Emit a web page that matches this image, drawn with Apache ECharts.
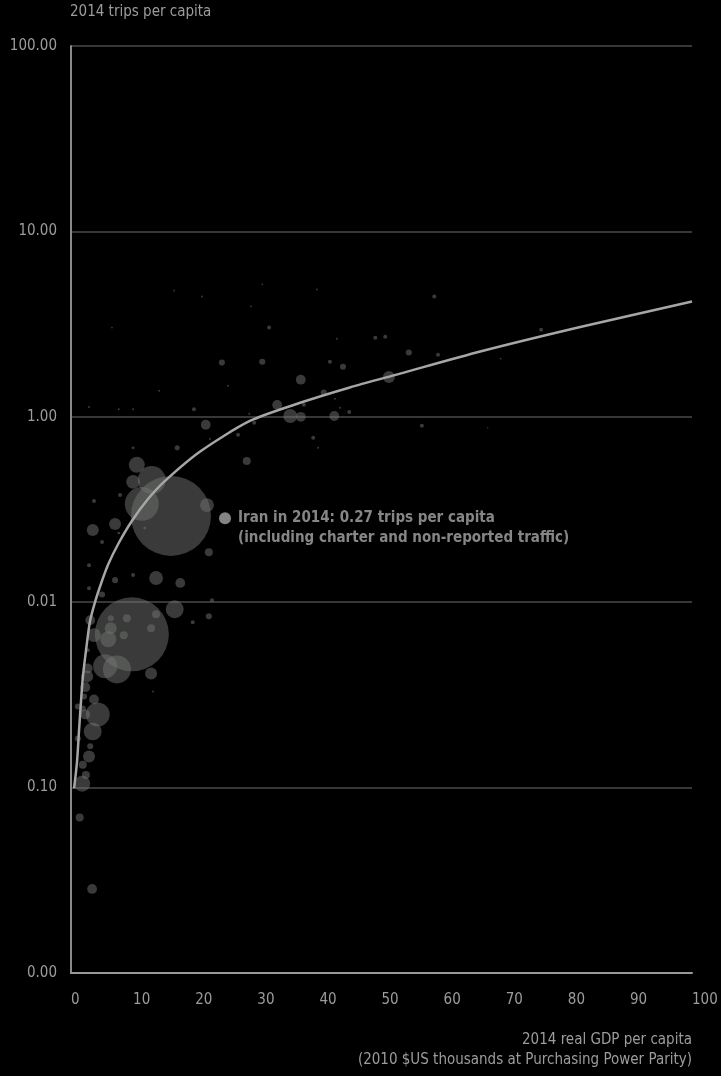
<!DOCTYPE html>
<html>
<head>
<meta charset="utf-8">
<script src="https://cdn.jsdelivr.net/npm/echarts@6/dist/echarts.min.js"></script>
<style>
  html, body { margin: 0; padding: 0; background: #000; }
  #chart { width: 721px; height: 1076px; }
</style>
</head>
<body>
<div id="chart"></div>
<script>
// labels as printed on the original (y axis is log, 0.001 .. 100)
var yTickLabels = ['0.00', '0.10', '0.01', '1.00', '10.00', '100.00'];

// countries: GDP per capita (k$), trips per capita, population weight
var gdp = [16.1, 9.8, 11.4, 13.0, 10.6, 10.0, 21.9, 7.1, 3.5, 13.7, 17.6, 21.7, 28.3, 22.2, 17.1, 16.7, 22.2, 22.7,
  3.7, 7.9, 10.0, 19.8, 2.9, 7.1, 5.0, 2.9, 5.0, 10.0, 11.9, 7.7, 2.9, 7.7, 10.0, 14.2, 25.3,
  9.0, 6.4, 13.7, 12.9, 6.4, 6.0, 8.5, 3.7, 3.1, 2.7, 5.5, 7.4, 12.9, 2.7, 2.6, 2.3, 2.1, 13.2, 3.7, 4.3, 1.9, 2.3, 19.6,
  3.5, 1.1, 3.1, 2.9, 1.9, 2.4, 1.8, 1.4, 3.4, 1.1,
  24.3, 30.8, 31.9, 37.0, 41.7, 43.8, 49.0, 50.6, 54.4, 58.5, 59.1, 51.2, 40.7, 33.2, 35.3, 37.0, 42.4, 37.5, 44.8, 56.5,
  26.9, 39.0, 29.5, 28.7, 30.8, 39.6, 29.0, 21.1, 42.8, 22.4, 42.5, 43.3, 39.8, 16.6, 6.6, 75.7, 69.2, 67.1];
var trips = [0.292, 0.0671, 0.339, 0.456, 0.551, 0.446, 0.334, 0.264, 0.245, 0.135, 0.127, 0.906, 0.578, 0.186, 0.68, 0.0916, 0.084, 0.1026,
  0.351, 0.379, 0.68, 1.10, 0.158, 0.1315, 0.211, 0.119, 0.110, 0.140, 0.251, 0.236, 1.13, 1.10, 1.10, 1.38, 1.47,
  0.082, 0.082, 0.0861, 0.0723, 0.0723, 0.0631, 0.0664, 0.0664, 0.080, 0.0551, 0.0451, 0.0434, 0.0413, 0.0439, 0.0398, 0.0348, 0.031, 0.033, 0.0299, 0.0248, 0.0267, 0.0248, 0.078,
  0.0201, 0.0184, 0.0167, 0.0147, 0.0133, 0.0117, 0.0105, 0.0069, 0.00284, 0.0274,
  1.96, 1.98, 3.03, 1.585, 1.98, 1.86, 2.67, 2.70, 2.22, 4.46, 2.16, 1.64, 1.35, 1.16, 1.01, 1.00, 1.01, 1.16, 1.06, 0.894,
  0.80, 0.77, 0.93, 1.04, 5.18, 4.86, 3.94, 4.46, 2.64, 0.76, 1.25, 1.12, 0.68, 4.8, 3.03, 2.95, 2.06, 0.873];
var pop = [400, 342, 72, 49, 16, 12, 12, 9, 9, 12, 6, 6, 4, 4, 1.6, 20, 2.3, 1,
  1, 1, 0.5, 1, 1, 2.3, 1, 1, 2.3, 1, 0.5, 0.5, 0.25, 0.25, 0.25, 0.25, 0.25,
  4, 2.3, 4, 4, 9, 16, 4, 12, 6, 1, 36, 49, 9, 6, 9, 6, 2.3, 0.25, 6, 36, 2.3, 6, 1,
  20, 2.3, 2.3, 9, 4, 4, 16, 4, 6, 2.3,
  2.3, 2.3, 1, 6, 1, 2.3, 1, 1, 2.3, 1, 1, 9, 2.3, 6, 12, 6, 6, 1, 1, 1,
  1, 1, 1, 0.25, 0.2, 0.2, 0.2, 0.25, 0.25, 0.25, 0.25, 0.25, 0.25, 0.2, 0.2, 1, 0.2, 0.15];

// Iran highlight
var iranGdp = 24.8;
var iranTrips = 0.284;

// fitted curve
var fitGdp = [0.5, 0.97, 1.3, 1.61, 1.93, 2.6, 3.06, 3.9, 4.8, 6, 7.6, 9.8, 12.4, 15.1, 20.8, 28.8, 36.9, 44.9, 53, 65.9, 82, 100];
var fitTrips = [0.0099, 0.0138, 0.0205, 0.0292, 0.040, 0.0615, 0.0789, 0.101, 0.125, 0.16, 0.206, 0.274, 0.36, 0.45, 0.65, 0.95, 1.19, 1.44, 1.71, 2.25, 3.05, 4.19];

var FONT = "'Liberation Sans Narrow', 'DejaVu Sans Condensed', sans-serif";
var TXT = '#9c9c9c';

var bubbles = gdp.map(function(g, i) { return [g, trips[i], pop[i]]; });
var fit = fitGdp.map(function(g, i) { return [g, fitTrips[i]]; });

var chart = echarts.init(document.getElementById('chart'));

chart.setOption({
    backgroundColor: '#000',
    animation: false,
    textStyle: { fontFamily: FONT },
    grid: { left: 71, right: 29, top: 46, bottom: 103 },
    xAxis: {
        type: 'value',
        min: 0,
        max: 100,
        interval: 10,
        axisLine: { lineStyle: { color: '#999', width: 2 } },
        axisTick: { show: false },
        splitLine: { show: false },
        axisLabel: { color: TXT, fontSize: 15, margin: 20, align: 'left', fontFamily: FONT }
    },
    yAxis: {
        type: 'log',
        logBase: 10,
        min: 0.001,
        max: 100,
        axisLine: { show: true, lineStyle: { color: '#888', width: 2 } },
        axisTick: { show: false },
        splitLine: { lineStyle: { color: '#4a4a4a', width: 1.5 } },
        axisLabel: {
            color: TXT, fontSize: 15, margin: 14, fontFamily: FONT,
            formatter: function(v) { return yTickLabels[Math.round(Math.log10(v)) + 3]; }
        }
    },
    graphic: [
        { type: 'text', left: 70, top: 5, style: { text: '2014 trips per capita', fill: TXT, font: '15px ' + FONT } },
        { type: 'text', right: 29, top: 1033, style: { text: '2014 real GDP per capita', fill: TXT, font: '15px ' + FONT, textAlign: 'right' } },
        { type: 'text', right: 29, top: 1053, style: { text: '(2010 $US thousands at Purchasing Power Parity)', fill: TXT, font: '15px ' + FONT, textAlign: 'right' } }
    ],
    series: [
        {
            type: 'scatter',
            data: bubbles,
            symbolSize: function(d) { return Math.sqrt(d[2]) * 4; },
            itemStyle: { color: 'rgba(115,117,115,0.62)' },
            z: 2
        },
        {
            type: 'scatter',
            data: [[iranGdp, iranTrips]],
            symbolSize: 12,
            itemStyle: { color: '#a5a5a5' },
            label: {
                show: true,
                position: 'right',
                distance: 7,
                offset: [0, 10],
                align: 'left',
                color: '#a8a8a8',
                fontSize: 15,
                fontWeight: 'bold',
                lineHeight: 20,
                fontFamily: FONT,
                formatter: 'Iran in 2014: 0.27 trips per capita\n(including charter and non-reported traffic)'
            },
            z: 4
        },
        {
            type: 'line',
            data: fit,
            smooth: 0.25,
            showSymbol: false,
            lineStyle: { color: '#a6a6a6', width: 2.5 },
            z: 3
        }
    ]
});
</script>
</body>
</html>
